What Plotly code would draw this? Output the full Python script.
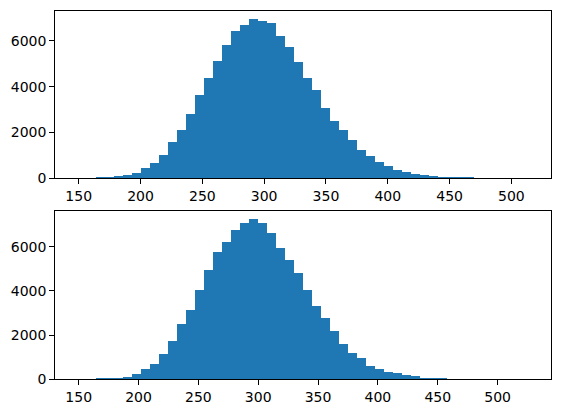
"""Two stacked histograms, matplotlib-style, rebuilt in Plotly."""

import numpy as np
import plotly.graph_objects as go

# ── Data ───────────────────────────────────────────────────────────────────────
TOP_MIN, TOP_MAX = 149.3, 513.8
TOP_COUNTS = [
    2, 8, 30, 55, 101, 150, 232, 449, 667, 1014,
    1580, 2101, 2841, 3666, 4406, 5145, 5841, 6449, 6710, 6971,
    6884, 6797, 6232, 5754, 5101, 4406, 3884, 3101, 2536, 2101,
    1667, 1232, 978, 710, 545, 362, 268, 195, 145, 105,
    70, 52, 40, 30, 25, 10, 6, 3, 1, 1,
]

BOT_MIN, BOT_MAX = 149.3, 525.8
BOT_COUNTS = [
    1, 4, 15, 38, 52, 125, 258, 445, 715, 1167,
    1712, 2485, 3121, 4030, 4939, 5757, 6212, 6757, 7075, 7257,
    7075, 6621, 5939, 5393, 4810, 4030, 3303, 2757, 2166, 1621,
    1212, 985, 585, 447, 310, 265, 175, 128, 50, 45,
    30, 12, 8, 5, 3, 2, 1, 1, 0, 1,
]

X_TICKS = [150, 200, 250, 300, 350, 400, 450, 500]
Y_TICKS = [0, 2000, 4000, 6000]

# ── Theme ──────────────────────────────────────────────────────────────────────
BAR = "#1f77b4"
W, H = 561, 413
FONT = dict(family="DejaVu Sans, sans-serif", size=14, color="black")

# axes boxes in pixels (left, right, top, bottom)
X_DOM = [55.3 / W, 551 / W]
TOP_DOM = [1 - 178.3 / H, 1 - 10.7 / H]
BOT_DOM = [1 - 379.3 / H, 1 - 211 / H]


def hist_trace(lo, hi, counts, xa, ya):
    edges = np.linspace(lo, hi, len(counts) + 1)
    centers = (edges[:-1] + edges[1:]) / 2
    return go.Bar(
        x=centers, y=counts, width=edges[1] - edges[0],
        marker=dict(color=BAR, line=dict(width=0)),
        xaxis=xa, yaxis=ya, showlegend=False, hoverinfo="x+y",
    )


def axis_style(**kw):
    d = dict(
        showline=True, linecolor="black", linewidth=1.1, mirror=True,
        ticks="outside", ticklen=5, tickwidth=1.1, tickcolor="black",
        showgrid=False, zeroline=False, tickfont=FONT, automargin=False,
    )
    d.update(kw)
    return d


fig = go.Figure()
fig.add_trace(hist_trace(TOP_MIN, TOP_MAX, TOP_COUNTS, "x", "y"))
fig.add_trace(hist_trace(BOT_MIN, BOT_MAX, BOT_COUNTS, "x2", "y2"))

top_pad = 0.05 * (TOP_MAX - TOP_MIN)
bot_pad = 0.05 * (BOT_MAX - BOT_MIN)

fig.update_layout(
    width=W, height=H,
    margin=dict(l=0, r=0, t=0, b=0),
    paper_bgcolor="white", plot_bgcolor="white",
    font=FONT, bargap=0,
    xaxis=axis_style(domain=X_DOM, anchor="y", tickvals=X_TICKS,
                     range=[TOP_MIN - top_pad, TOP_MAX + top_pad]),
    yaxis=axis_style(domain=TOP_DOM, anchor="x", tickvals=Y_TICKS,
                     range=[0, max(TOP_COUNTS) * 1.05]),
    xaxis2=axis_style(domain=X_DOM, anchor="y2", tickvals=X_TICKS,
                      range=[BOT_MIN - bot_pad, BOT_MAX + bot_pad]),
    yaxis2=axis_style(domain=BOT_DOM, anchor="x2", tickvals=Y_TICKS,
                      range=[0, max(BOT_COUNTS) * 1.05]),
)

# page body has a default 8px margin; drop it so the figure sits at 0,0
fig.write_html("out.html", config={"displayModeBar": False},
               post_script="document.body.style.margin='0px';")
